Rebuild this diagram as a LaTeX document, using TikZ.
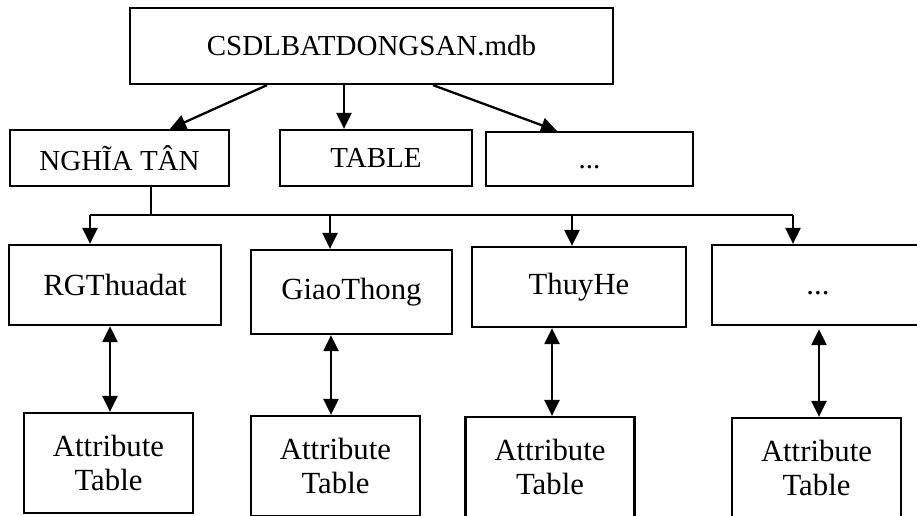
\documentclass[tikz,border=0pt]{standalone}
\usepackage{fontspec}
\setmainfont{Liberation Serif}
\usetikzlibrary{arrows.meta,positioning}
\tikzset{%
	block/.style  = {draw, rectangle, line width=1.3pt, inner sep=0pt, text centered, font=\fontsize{16.5}{20}\selectfont},
	layer/.style  = {block, font=\fontsize{17.5}{20}\selectfont},
	attr/.style   = {block, align=center, minimum width=3.38cm, minimum height=2cm, font=\fontsize{17.5}{19.5}\selectfont},
	arrow/.style  = {line width=1.3pt, -{Triangle[length=0.32cm,width=0.3cm]}},
	darrow/.style = {line width=1.3pt, {Triangle[length=0.32cm,width=0.3cm]}-{Triangle[length=0.32cm,width=0.3cm]}},
	bus/.style    = {line width=0.9pt},
}

\begin{document}
\begin{tikzpicture}[x=0.02cm,y=-0.02cm]
	\clip (0,0) rectangle (917,515);
	
	% database and its groups
	\node[block, minimum width=9.66cm, minimum height=1.52cm] (db) at (371.5,46) {CSDLBATDONGSAN.mdb};
	\node[block, minimum width=4.38cm, minimum height=1.12cm] (nt) at (119.5,158) {NGHĨA TÂN};
	\node[block, minimum width=3.84cm, minimum height=1.12cm] (tbl) at (376,158) {TABLE};
	\node[block, minimum width=4.14cm, minimum height=1.08cm] (more) at (589.5,159) {\vphantom{A}...};
	
	\draw[arrow] (db.south -| 267,0) -- (nt.north -| 170,0);
	\draw[arrow] (db.south -| 344,0) -- (tbl.north -| 344,0);
	\draw[arrow] (db.south -| 433,0) -- (more.north -| 557,0);
	
	% layers
	\node[layer, minimum width=4.24cm, minimum height=1.6cm] (rg) at (115,285) {RGThuadat};
	\node[layer, minimum width=4.02cm, minimum height=1.68cm] (gt) at (351.5,292) {GiaoThong};
	\node[layer, minimum width=4.28cm, minimum height=1.6cm] (th) at (579,287) {ThuyHe};
	\node[layer, minimum width=4.24cm, minimum height=1.6cm] (ly) at (818,285) {\vphantom{A}...};
	
	\draw[bus] (nt.south -| 151,0) -- (151,215);
	\draw[bus] (90,215) -- (793,215);
	\foreach \x/\n in {90/rg,330/gt,572/th,793/ly} \draw[arrow] (\x,215) -- (\n.north -| \x,0);
	
	% attribute tables
	\node[attr] (a1) at (108.5,463) {Attribute\\Table};
	\node[attr] (a2) at (335.5,466) {Attribute\\Table};
	\node[attr] (a3) at (550,467) {Attribute\\Table};
	\node[attr] (a4) at (816.5,468) {Attribute\\Table};
	
	\draw[darrow] (rg.south -| 110,0) -- (a1.north -| 110,0);
	\draw[darrow] (gt.south -| 331,0) -- (a2.north -| 331,0);
	\draw[darrow] (th.south -| 552,0) -- (a3.north -| 552,0);
	\draw[darrow] (ly.south -| 819,0) ++(0,3) -- (a4.north -| 819,0);
\end{tikzpicture}
\end{document}
